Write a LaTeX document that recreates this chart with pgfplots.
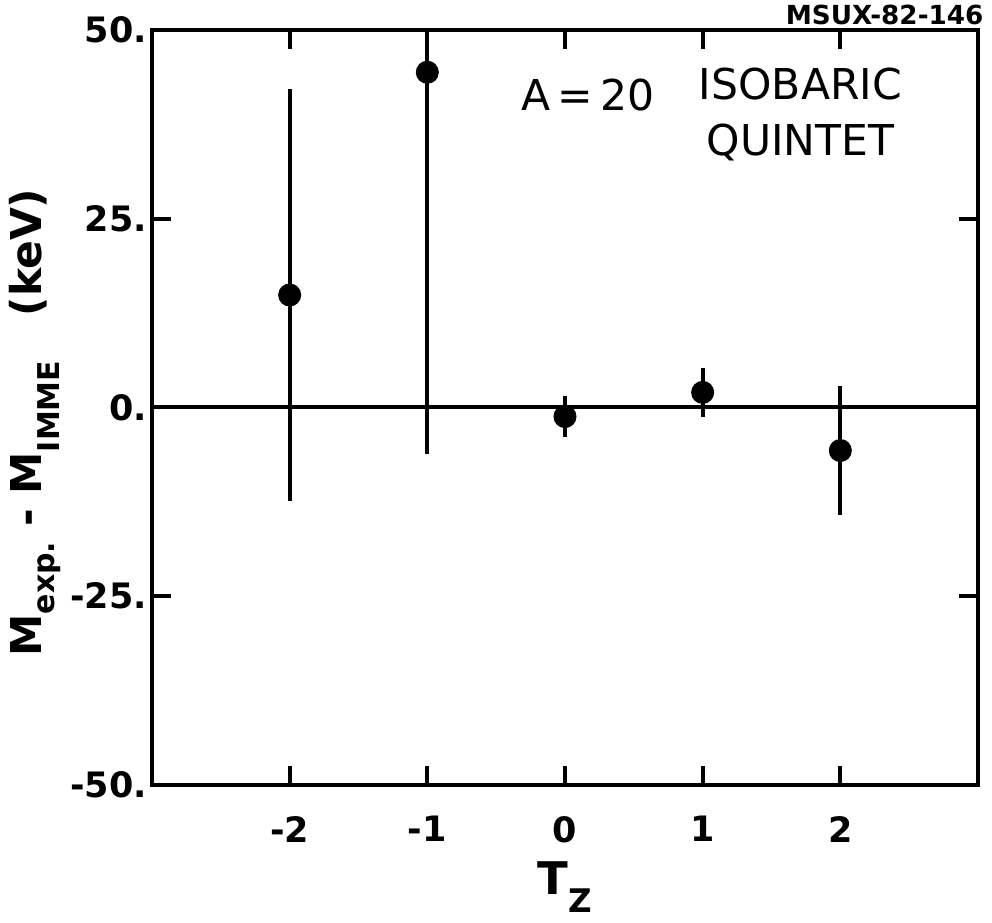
\documentclass[border=0pt]{standalone}
\usepackage{fontspec}
\setmainfont{DejaVu Sans}
\usepackage{pgfplots}
\pgfplotsset{compat=1.18}
\begin{document}
\begin{tikzpicture}
\begin{axis}[
  at={(0,0)}, anchor=south west,
  scale only axis, width=330.4pt, height=302pt,
  xmin=-3, xmax=3, ymin=-50, ymax=50,
  xtick={-2,-1,0,1,2}, xticklabels={-2,-1,0,1,2},
  ytick={-50,-25,0,25,50}, yticklabels={-50.,-25.,0.,25.,50.},
  /pgf/number format/assume math mode=true,
  tick align=inside, major tick length=7.5pt,
  tick style={line width=1.5pt, black},
  axis line style={line width=1.6pt},
  xticklabel style={font=\bfseries\fontsize{14}{14}\selectfont, yshift=-9pt},
  yticklabel style={font=\bfseries\fontsize{14}{14}\selectfont, xshift=1.5pt},
  ylabel={M\raisebox{-5pt}{\fontsize{12}{12}\selectfont exp.}\ -\ M\raisebox{-7pt}{\fontsize{12}{12}\selectfont IMME}\ \ \ (keV)},
  ylabel style={at={(axis description cs:-0.1416,0.48)}, anchor=center, font=\bfseries\fontsize{17}{17}\selectfont},
  xlabel={T\raisebox{-7pt}{\fontsize{13}{13}\selectfont Z}},
  xlabel style={at={(axis description cs:0.5,-0.135)}, anchor=center, font=\bfseries\fontsize{18}{18}\selectfont},
  clip mode=individual,
]
\addplot[black, line width=1.6pt, forget plot] coordinates {(-3,0) (3,0)};
\addplot[black, only marks, mark=*, mark size=4.4pt,
  error bars/.cd, y dir=both, y explicit, error mark=none,
  error bar style={line width=1.6pt}]
  coordinates {
    (-2,14.9) +- (0,27.3)
    (-1,44.4) +- (0,50.6)
    (0,-1.2) +- (0,2.7)
    (1,2.0) +- (0,3.2)
    (2,-5.7) +- (0,8.6)
  };
\node[font=\fontsize{17}{17}\selectfont] at (axis description cs:0.528,0.914) {A\,=\,20};
\node[font=\fontsize{17}{20.5}\selectfont, align=center] at (axis description cs:0.785,0.888) {ISOBARIC\\[2pt]QUINTET};
\node[font=\bfseries\fontsize{10.5}{10.5}\selectfont] at (axis description cs:0.887,1.02) {MSUX-82-146};
\end{axis}
\pgfresetboundingbox
\path[use as bounding box] (-60.8pt,-55.2pt) rectangle (336pt,314pt);
\end{tikzpicture}
\end{document}
